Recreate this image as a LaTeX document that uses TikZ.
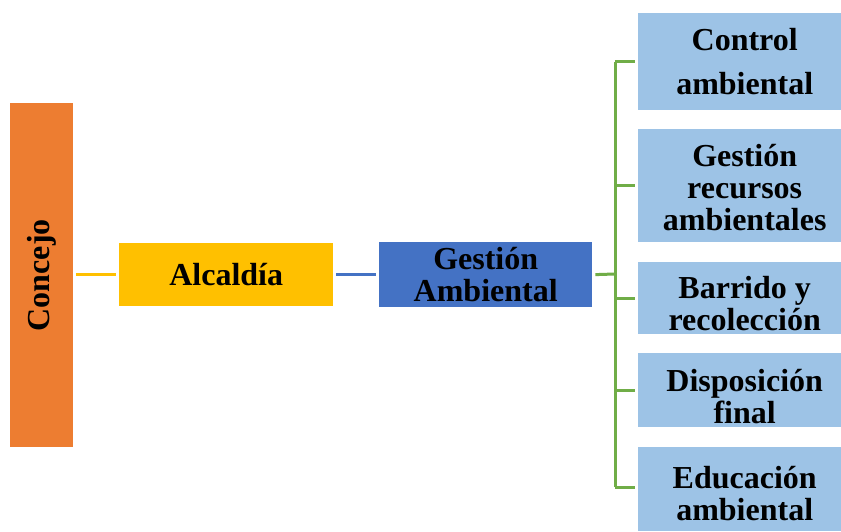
\documentclass[tikz,border=0pt]{standalone}
\usepackage{fontspec}
\setmainfont{Liberation Serif}
\begin{document}
\begin{tikzpicture}[x=1pt,y=-1pt,
  lbl/.style={font=\bfseries\fontsize{32}{32}\selectfont, align=center, text=black, inner sep=0pt},
  box/.style={inner sep=0pt, anchor=north west},
  lb/.style={box, fill=lightblue, minimum width=203pt},
  conn/.style={line width=2.5pt, shorten <=3pt, shorten >=3pt},
  gline/.style={grn, line width=3pt},
]
\definecolor{orng}{HTML}{ED7D31}
\definecolor{yell}{HTML}{FFC000}
\definecolor{blu}{HTML}{4472C4}
\definecolor{lightblue}{HTML}{9DC3E6}
\definecolor{grn}{HTML}{70AD47}
\useasboundingbox[fill=white] (0,0) rectangle (841,531);

\node[box, fill=orng, minimum width=63pt, minimum height=344pt] (concejo) at (10,103) {};
\node[lbl, rotate=90] (tconcejo) at (concejo.center) {Concejo};

\node[box, fill=yell, minimum width=214pt, minimum height=63pt] (alc) at (119,243) {};
\node[lbl] (talc) at (alc.center) {Alcald\'ia};

\node[box, fill=blu, minimum width=213pt, minimum height=65pt] (gest) at (379,242) {};
\node[lbl] (tgest) at (gest.center) {Gesti\'on\\Ambiental};

\node[lb, minimum height=97pt] (b1) at (638,13) {};
\node[lbl, font=\bfseries\fontsize{32}{44}\selectfont] (t1) at ([xshift=5pt,yshift=0pt]b1.center) {Control\\ambiental};
\node[lb, minimum height=113pt] (b2) at (638,129) {};
\node[lbl] (t2) at ([xshift=5pt,yshift=-2pt]b2.center) {Gesti\'on\\recursos\\ambientales};
\node[lb, minimum height=72pt] (b3) at (638,262) {};
\node[lbl] (t3) at ([xshift=5pt,yshift=-5pt]b3.center) {Barrido y\\recolecci\'on};
\node[lb, minimum height=74pt] (b4) at (638,353) {};
\node[lbl] (t4) at ([xshift=5pt,yshift=-6pt]b4.center) {Disposici\'on\\final};
\node[lb, minimum height=84pt] (b5) at (638,447) {};
\node[lbl] (t5) at ([xshift=5pt,yshift=-4pt]b5.center) {Educaci\'on\\ambiental};

\draw[conn, yell] (concejo.east |- alc.west) -- (alc.west);
\draw[conn, blu] (alc.east) -- (gest.west);

\coordinate (bus) at (615,274);
\draw[gline, shorten <=3pt] (gest.east) -- (bus);
\draw[gline] (615,62) -- (615,487);
\foreach \b in {b1,b2,b3,b4} {
  \draw[gline, shorten >=3pt] (bus |- \b.west) -- (\b.west);
}
\coordinate (b5w) at (638,487);
\draw[gline, shorten >=3pt] (bus |- b5w) -- (b5w);
\end{tikzpicture}
\end{document}
